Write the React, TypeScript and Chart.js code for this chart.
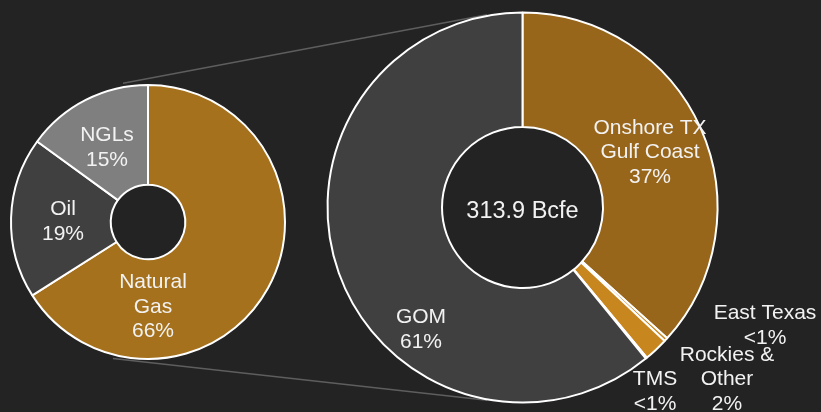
import React, { useEffect, useRef } from "react";
import { Chart, registerables } from "chart.js";
Chart.register(...registerables);

// ---- data ----
const mixCategories = ["Natural Gas", "Oil", "NGLs"];
const mixValues = [66, 19, 15];
const mixLabels = [["Natural", "Gas", "66%"], ["Oil", "19%"], ["NGLs", "15%"]];

const regionCategories = ["Onshore TX Gulf Coast", "East Texas", "Rockies & Other", "TMS", "GOM"];
const regionValues = [36.7, 0.3, 2.0, 0.1, 60.9];
const regionLabels = [
  ["Onshore TX", "Gulf Coast", "37%"],
  ["East Texas", "<1%"],
  ["Rockies &", "Other", "2%"],
  ["TMS", "<1%"],
  ["GOM", "61%"],
];
const totalLabel = "313.9 Bcfe";

// ---- styling / layout ----
const BG = "#232323";
const FONT = "'Liberation Sans', Arial, Helvetica, sans-serif";
const mixColors = ["#A5711C", "#404040", "#7F7F7F"];
const regionColors = ["#98661A", "#C8861F", "#C8861F", "#C8861F", "#404040"];
const mixLabelOffsets = [[5, 85], [-85, 0], [-41, -74.5]];
const regionLabelOffsets = [[127.5, -55], [242.5, 118.5], [204.5, 172], [132.5, 184], [-101.5, 122]];
// connector angles (deg, clockwise from top): [leftAngle, rightAngle]
const connectorAngles = [[-10.2, -10.4], [194.4, 190.4]];

const W = 821;
const H = 412;

function labelPlugin(id: string, labels: string[][], offsets: number[][], center?: string) {
  return {
    id,
    afterDatasetsDraw(chart: any) {
      const arc = chart.getDatasetMeta(0).data[0];
      if (!arc) return;
      const ctx = chart.ctx;
      ctx.save();
      ctx.fillStyle = "#F2F2F2";
      ctx.textAlign = "center";
      ctx.textBaseline = "middle";
      ctx.font = `21px ${FONT}`;
      const lh = 24.6;
      labels.forEach((lines, i) => {
        const [dx, dy] = offsets[i];
        const cx = arc.x + dx;
        const cy = arc.y + dy;
        const start = cy - ((lines.length - 1) * lh) / 2;
        lines.forEach((t, j) => ctx.fillText(t, cx, start + j * lh));
      });
      if (center) {
        ctx.font = `23.5px ${FONT}`;
        ctx.fillText(center, arc.x, arc.y + 4.5);
      }
      ctx.restore();
    },
  };
}

export default function App() {
  const leftRef = useRef<HTMLCanvasElement>(null);
  const rightRef = useRef<HTMLCanvasElement>(null);

  useEffect(() => {
    const right = new Chart(rightRef.current!, {
      type: "doughnut",
      data: {
        labels: regionCategories,
        datasets: [
          {
            data: regionValues,
            backgroundColor: regionColors,
            borderColor: "#FFFFFF",
            borderWidth: 2,
          },
        ],
      },
      options: {
        responsive: false,
        animation: false,
        radius: 195,
        cutout: 84,
        layout: { padding: { left: 224, right: 0, top: 3, bottom: 0 } },
        plugins: { legend: { display: false }, tooltip: { enabled: false } },
      },
      plugins: [labelPlugin("rightLabels", regionLabels, regionLabelOffsets, totalLabel)],
    });

    const connectorPlugin = {
      id: "connectors",
      beforeDatasetsDraw(chart: any) {
        const a = chart.getDatasetMeta(0).data[0];
        const b = right.getDatasetMeta(0).data[0];
        if (!a || !b) return;
        const ctx = chart.ctx;
        ctx.save();
        ctx.strokeStyle = "#5E5E5E";
        ctx.lineWidth = 1.5;
        connectorAngles.forEach(([la, ra]) => {
          const l = (la * Math.PI) / 180;
          const r = (ra * Math.PI) / 180;
          const r1 = a.outerRadius + 4;
          const r2 = b.outerRadius + 1;
          ctx.beginPath();
          ctx.moveTo(a.x + r1 * Math.sin(l), a.y - r1 * Math.cos(l));
          ctx.lineTo(b.x + r2 * Math.sin(r), b.y - r2 * Math.cos(r));
          ctx.stroke();
        });
        ctx.restore();
      },
    };

    const left = new Chart(leftRef.current!, {
      type: "doughnut",
      data: {
        labels: mixCategories,
        datasets: [
          {
            data: mixValues,
            backgroundColor: mixColors,
            borderColor: "#FFFFFF",
            borderWidth: 2,
          },
        ],
      },
      options: {
        responsive: false,
        animation: false,
        radius: 137,
        cutout: 40,
        layout: { padding: { left: 0, right: W - 296, top: 32, bottom: 0 } },
        plugins: { legend: { display: false }, tooltip: { enabled: false } },
      },
      plugins: [connectorPlugin, labelPlugin("leftLabels", mixLabels, mixLabelOffsets)],
    });

    return () => {
      left.destroy();
      right.destroy();
    };
  }, []);

  return (
    <div
      style={{
        position: "fixed",
        left: 0,
        top: 0,
        width: W,
        height: H,
        background: BG,
        overflow: "hidden",
      }}
    >
      <canvas ref={leftRef} width={W} height={H} style={{ position: "absolute", left: 0, top: 0 }} />
      <canvas ref={rightRef} width={W} height={H} style={{ position: "absolute", left: 0, top: 0 }} />
    </div>
  );
}
